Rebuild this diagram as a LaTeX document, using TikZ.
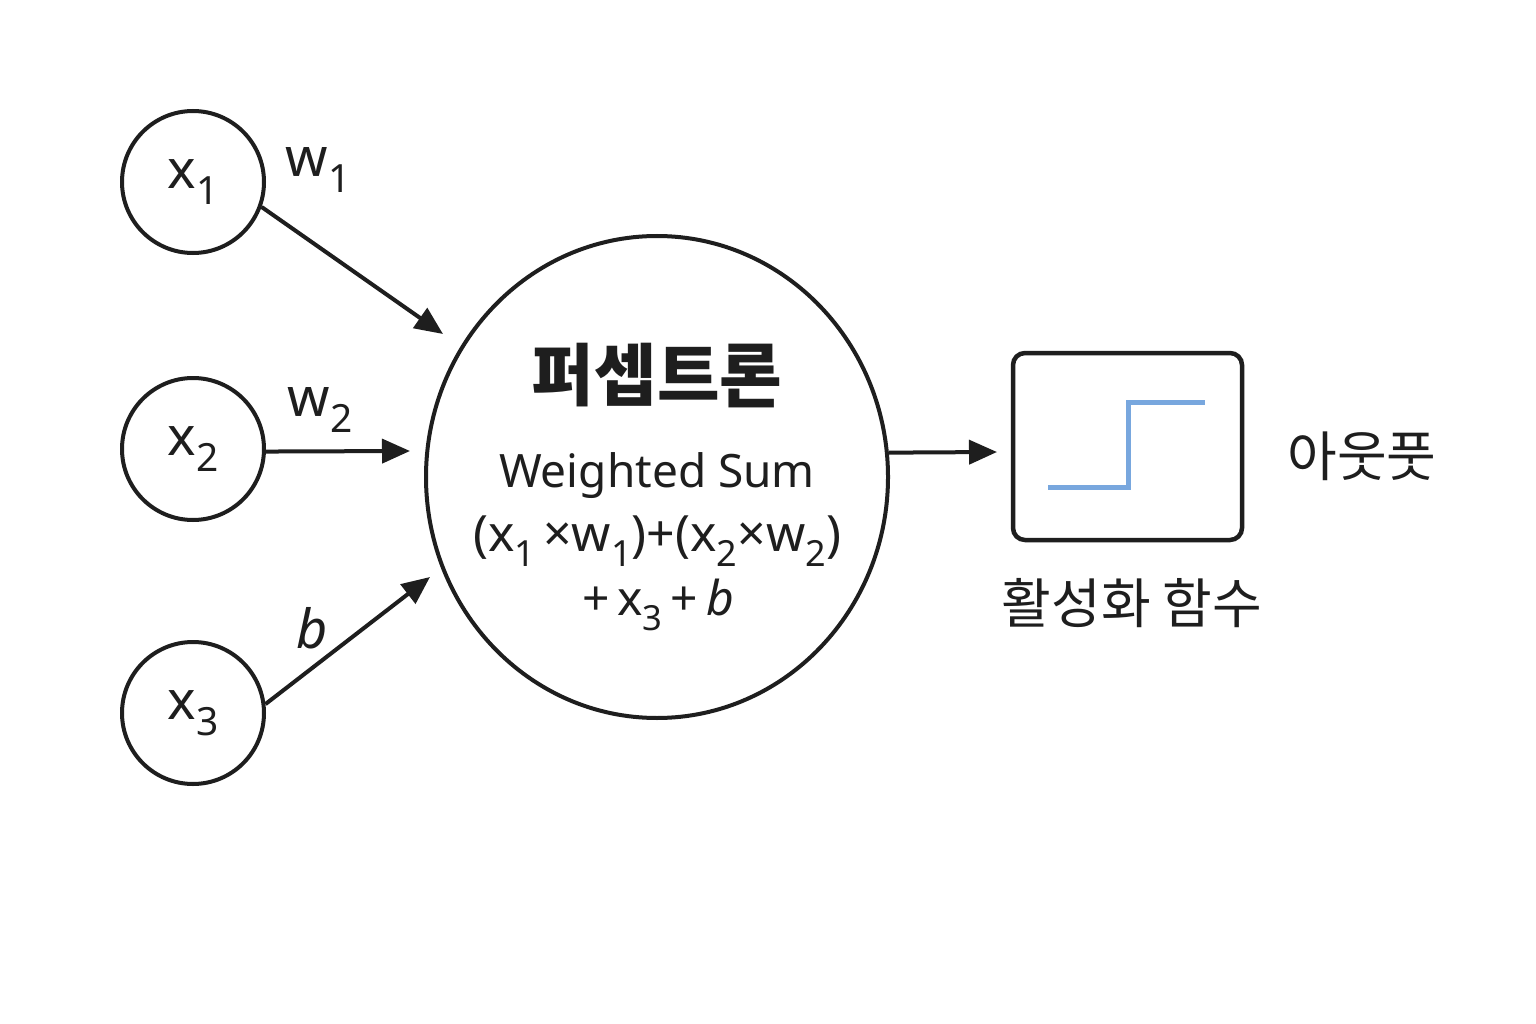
\documentclass[tikz,border=0pt]{standalone}
\usepackage{fontspec}
\setmainfont{Noto Sans}
\newfontfamily\kr{Noto Sans CJK KR}
\usetikzlibrary{arrows.meta,shapes.geometric}
\newcommand{\sbs}[1]{\raisebox{-0.3em}{\scalebox{0.72}{#1}}}
\definecolor{stepblue}{HTML}{78A7DE}
\definecolor{ink}{HTML}{1E1E1E}
\begin{document}
\begin{tikzpicture}[x=1pt,y=-1pt,
  inp/.style={circle,draw=ink,line width=4pt,minimum size=142pt,inner sep=0pt,
    font=\fontsize{54}{64}\selectfont,text=ink},
  arr/.style={draw=ink,line width=4pt,-{Triangle[length=28pt,width=24pt]},fill=ink},
  lbl/.style={inner sep=0pt,text=ink,font=\fontsize{46}{56}\selectfont},
  wl/.style={inner sep=0pt,text=ink,font=\fontsize{54}{64}\selectfont},
  krl/.style={inner sep=0pt,text=ink,font=\kr\fontsize{54}{64}\selectfont}]
\useasboundingbox (0,0) rectangle (1536,1024);
\fill[white] (0,0) rectangle (1536,1024);

% input nodes
\node[inp] (x1) at (193,182) {x\sbs{1}};
\node[inp] (x2) at (193,449) {x\sbs{2}};
\node[inp] (x3) at (193,713) {x\sbs{3}};

% perceptron
\node[ellipse,draw=ink,line width=4pt,minimum width=462pt,minimum height=482pt,inner sep=0pt] (p) at (657,477) {};
\node[inner sep=0pt,text=ink,font=\kr\bfseries\fontsize{68}{76}\selectfont] (title) at (657,376) {퍼셉트론};
\node[lbl] (ws) at (657,476) {Weighted Sum};
\node[lbl,font=\fontsize{50}{60}\selectfont] (f1) at (657,541) {(x\sbs{1}\,×w\sbs{1})+(x\sbs{2}×w\sbs{2})};
\node[lbl,font=\fontsize{48}{58}\selectfont] (f2) at (658,605) {+\,x\sbs{3}\,+\,\textit{b}};

% arrow tips
\coordinate (t1) at (443,334);
\coordinate (t2) at (410,451);
\coordinate (t3) at (430,577);
\coordinate (to) at (997,452);

\draw[arr] (x1.-20) -- (t1);
\draw[arr] (x2.-2) -- (t2);
\draw[arr] (x3.7) -- (t3);
\draw[arr] (p.6) -- (to);

% weight labels
\node[wl] (w1) at (318,170) {w\sbs{1}};
\node[wl] (w2) at (320,410) {w\sbs{2}};
\node[wl] (b) at (312,628) {\textit{b}};

% activation box
\node[draw=ink,rounded corners=12pt,line width=4.5pt,minimum width=229pt,minimum height=187pt,inner sep=0pt] (act) at (1127.5,446.5) {};
\draw[stepblue,line width=5pt] (1048,487) -- (1128,487) -- (1128,402) -- (1205,402);
\node[krl] (actl) at (1132,603) {활성화 함수};
\node[krl] (out) at (1362,456) {아웃풋};
\end{tikzpicture}
\end{document}
